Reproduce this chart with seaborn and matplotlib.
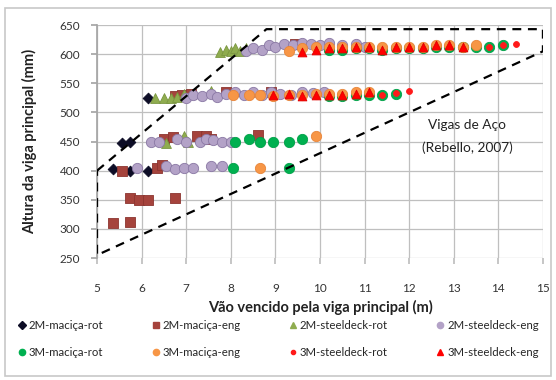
import numpy as np
import pandas as pd
import matplotlib
matplotlib.use('Agg')
import matplotlib.pyplot as plt
import seaborn as sns
from matplotlib.patches import Rectangle
from matplotlib.lines import Line2D

# data: span (m) and beam height (mm)
x_2m_mac_rot = [5.35, 5.75, 6.15, 5.55, 5.75, 6.15]
y_2m_mac_rot = [403, 400, 400, 447, 450, 525]

x_2m_mac_eng = [5.35, 5.75, 5.75, 5.95, 6.15, 6.75, 5.55, 6.35, 6.45,
                6.5, 6.7, 7.25, 7.45, 7.55, 8.6, 6.75, 6.9, 7.1, 7.9, 8.9, 9.45]
y_2m_mac_eng = [310, 312, 353, 350, 350, 353, 400, 405, 410,
                455, 457, 460, 460, 455, 462, 528, 530, 532, 535, 535, 618]

x_2m_sd_rot = [7.75, 7.9, 8.0, 8.1, 8.2, 8.35, 6.3, 6.5, 6.65, 6.8, 6.95, 7.55,
               6.55, 6.95, 7.05]
y_2m_sd_rot = [603, 607, 605, 610, 605, 610, 525, 525, 525, 527, 532, 537,
               447, 460, 450]

x_2m_sd_eng = [5.9, 6.55, 6.75, 6.95, 7.15, 7.55, 7.8,
               6.2, 6.4, 6.8, 7.0, 7.3, 7.45, 7.6, 7.8, 8.0,
               7.0, 7.15, 7.35, 7.55, 7.7, 7.9, 8.1, 8.3, 8.5, 8.7, 8.9, 9.1,
               9.35, 9.6, 9.85, 10.1,
               8.35, 8.5, 8.7, 8.85, 9.0, 9.2, 9.4, 9.6, 9.8, 10.0, 10.2, 10.5,
               10.8, 11.0]
y_2m_sd_eng = [405, 408, 403, 405, 405, 408, 408,
               450, 450, 455, 450, 450, 455, 452, 450, 450,
               525, 530, 528, 532, 527, 532, 535, 530, 535, 530, 535, 532,
               530, 535, 533, 535,
               605, 610, 608, 615, 612, 618, 615, 620, 618, 615, 620, 615,
               618, 612]

x_3m_mac_rot = [8.05, 9.3, 8.1, 8.4, 8.65, 8.95, 9.3, 9.6,
                10.2, 10.5, 10.8, 11.1, 11.4, 11.7,
                10.2, 10.5, 10.8, 11.1, 11.4, 11.7, 12.0, 12.3, 12.6, 12.9,
                13.2, 13.5, 13.8, 14.1]
y_3m_mac_rot = [405, 405, 450, 455, 450, 450, 450, 455,
                528, 528, 530, 530, 530, 532,
                608, 608, 610, 610, 608, 610, 610, 610, 612, 612,
                612, 612, 613, 615]

x_3m_mac_eng = [8.65, 9.9,
                8.05, 8.4, 8.65, 8.95, 9.3, 9.6, 9.9, 10.2, 10.5, 10.8, 11.1,
                9.3, 9.6, 9.9, 10.2, 10.5, 10.8, 11.1, 11.4, 11.7, 12.0,
                12.3, 12.6, 12.9, 13.2, 13.5]
y_3m_mac_eng = [405, 460,
                530, 530, 530, 528, 530, 530, 532, 532, 532, 535, 535,
                605, 610, 612, 612, 612, 613, 613, 612, 613, 613,
                613, 615, 615, 613, 615]

x_3m_sd_rot = [11.4, 11.7, 12.0, 13.8, 14.1, 14.4]
y_3m_sd_rot = [530, 533, 537, 612, 615, 618]

x_3m_sd_eng = [8.95, 9.3, 9.6, 9.9, 10.2, 10.5, 10.8, 11.1,
               9.6, 9.9, 10.2, 10.5, 10.8, 11.1, 11.4, 11.7, 12.0, 12.3,
               12.6, 12.9, 13.2]
y_3m_sd_eng = [530, 532, 528, 530, 530, 530, 532, 535,
               603, 607, 610, 610, 612, 612, 608, 612, 612, 612,
               615, 615, 612]

# Rebello (2007) steel beam region
region_x = [5, 8.8, 15, 15, 5, 5]
region_y = [400, 643, 643, 605, 255, 400]

labels = ['2M-maciça-rot', '2M-maciça-eng', '2M-steeldeck-rot', '2M-steeldeck-eng',
          '3M-maciça-rot', '3M-maciça-eng', '3M-steeldeck-rot', '3M-steeldeck-eng']

sns.set_theme(style='white')
plt.rcParams['font.family'] = ['Lato', 'DejaVu Sans']

fig = plt.figure(figsize=(5.56, 3.8), dpi=100)
ax = fig.add_axes([0.1745, 0.321, 0.802, 0.613])

series = [
    (x_2m_mac_rot, y_2m_mac_rot, 'D', '#0d0d26', '#0d0d26', 30),
    (x_2m_mac_eng, y_2m_mac_eng, 's', '#a5433c', '#8c3530', 55),
    (x_2m_sd_rot, y_2m_sd_rot, '^', '#8fac4f', '#7a9640', 50),
    (x_2m_sd_eng, y_2m_sd_eng, 'o', '#b3a2c7', '#8a78a4', 55),
    (x_3m_mac_rot, y_3m_mac_rot, 'o', '#00b050', '#00a048', 55),
    (x_3m_mac_eng, y_3m_mac_eng, 'o', '#f79646', '#e8853a', 55),
    (x_3m_sd_rot, y_3m_sd_rot, 'o', '#ff1a1a', '#ff1a1a', 18),
    (x_3m_sd_eng, y_3m_sd_eng, '^', '#ff0000', '#e00000', 40),
]

handles = []
for (xs, ys, m, fc, ec, s), lab in zip(series, labels):
    sns.scatterplot(x=xs, y=ys, marker=m, color=fc, edgecolor=ec, linewidth=0.6,
                    s=s, ax=ax, zorder=3, legend=False)
    ms = 3 if lab == '3M-steeldeck-rot' else 4.5
    handles.append(Line2D([], [], linestyle='none', marker=m, color=fc, markersize=ms))

ax.plot(region_x, region_y, color='black', linestyle=(0, (4, 3)), linewidth=1.6, zorder=4)
ax.text(13.3, 478, 'Vigas de Aço', ha='center', va='center', fontsize=9.8, color='#222222')
ax.text(13.3, 440, '(Rebello, 2007)', ha='center', va='center', fontsize=9.8, color='#222222')

ax.set_xlim(5, 15)
ax.set_ylim(250, 650)
ax.set_xticks(range(5, 16))
ax.set_yticks(range(250, 651, 50))
ax.grid(True, color='#bfbfbf', linewidth=0.9)
for sp in ['top', 'right']:
    ax.spines[sp].set_visible(False)
ax.spines['left'].set_color('#a6a6a6')
ax.spines['bottom'].set_visible(False)
ax.tick_params(axis='y', left=True, length=4, color='#a6a6a6', pad=8, labelsize=8.5,
               labelcolor='#333333')
ax.tick_params(axis='x', bottom=True, length=4, color='#bfbfbf', pad=14, labelsize=8.5,
               labelcolor='#333333')
ax.set_xlabel('Vão vencido pela viga principal (m)', fontsize=10.5, fontweight='bold',
              labelpad=4, color='#222222')
ax.set_ylabel('Altura da viga principal (mm)', fontsize=10.5, fontweight='bold',
              labelpad=16, color='#222222')

order = [0, 4, 1, 5, 2, 6, 3, 7]
fig.legend([handles[i] for i in order], [labels[i] for i in order], ncol=4,
           loc='center', bbox_to_anchor=(0.5, 0.108), frameon=False, fontsize=8.2,
           handletextpad=0.2, columnspacing=4.2, labelspacing=1.4, handlelength=0.8,
           borderpad=0.1)

fig.patches.append(Rectangle((0.009, 0.01), 0.982, 0.968, transform=fig.transFigure,
                             fill=False, edgecolor='#c8c8c8', linewidth=1.2))

fig.savefig('out.png', dpi=100)
